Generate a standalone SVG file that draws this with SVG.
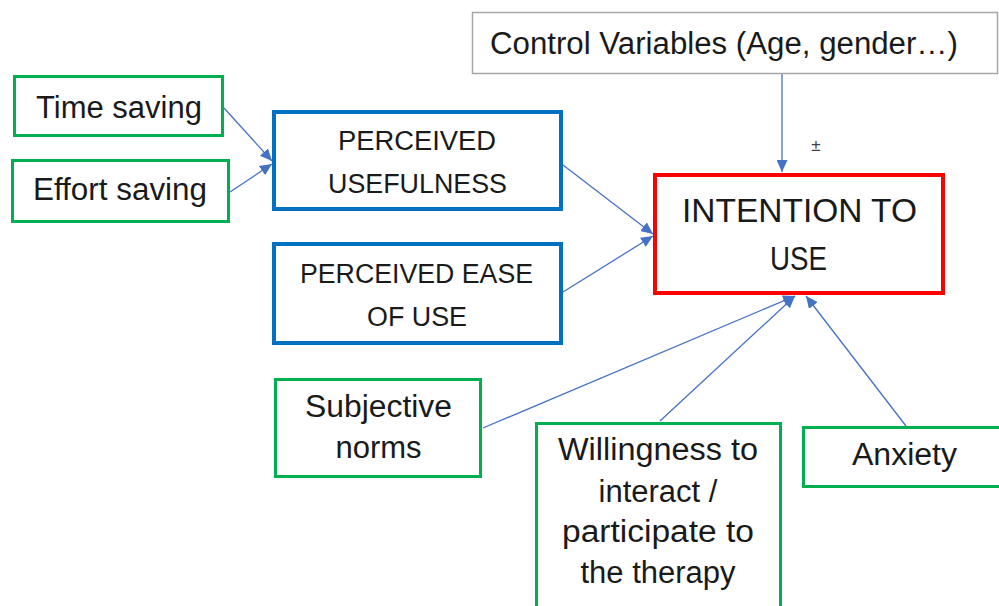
<svg xmlns="http://www.w3.org/2000/svg" width="999" height="606" viewBox="0 0 999 606">
<style>
text{font-family:"Liberation Sans",Arial,sans-serif;fill:#1a1a1a;text-anchor:middle}
.t{font-size:31px}
.c{font-size:27px}
.i{font-size:33px}
.pm{font-size:17px;fill:#404040}
.g{fill:#fff;stroke:#00B050;stroke-width:3}
.b{fill:#fff;stroke:#0070C0;stroke-width:4}
.r{fill:#fff;stroke:#FF0000;stroke-width:4}
.k{fill:#fff;stroke:#A6A6A6;stroke-width:1.5}
.e{fill:none;stroke:#4472C4;stroke-width:1.3;marker-end:url(#ah)}
</style>
<defs>
<marker id="ah" markerUnits="userSpaceOnUse" markerWidth="13" markerHeight="11" refX="12" refY="5.5" orient="auto">
<path d="M0,0 L12,5.5 L0,11 z" fill="#4472C4"/>
</marker>
</defs>
<rect width="999" height="606" fill="#fff"/>
<g id="connectors">
<line class="e" x1="224" y1="108" x2="272" y2="161"/>
<line class="e" x1="230" y1="192" x2="272" y2="164"/>
<line class="e" x1="563" y1="165" x2="653" y2="234"/>
<line class="e" x1="563" y1="292" x2="653" y2="236"/>
<line class="e" x1="782" y1="73" x2="782" y2="172"/>
<line class="e" x1="483" y1="428" x2="795" y2="296"/>
<line class="e" x1="660" y1="421" x2="795" y2="296"/>
<line class="e" x1="906" y1="426" x2="806" y2="296"/>
<text class="pm" x="816" y="151">±</text>
</g>
<g id="control">
<rect class="k" x="472.5" y="12.5" width="525" height="61"/>
<text class="t" x="490" y="54" style="text-anchor:start" textLength="468" lengthAdjust="spacingAndGlyphs">Control Variables (Age, gender…)</text>
</g>
<g id="time-saving">
<rect class="g" x="14.5" y="76.5" width="208" height="59"/>
<text class="t" x="119" y="118" textLength="166" lengthAdjust="spacingAndGlyphs">Time saving</text>
</g>
<g id="effort-saving">
<rect class="g" x="12.5" y="160.5" width="216" height="61"/>
<text class="t" x="120" y="200" textLength="174" lengthAdjust="spacingAndGlyphs">Effort saving</text>
</g>
<g id="perceived-usefulness">
<rect class="b" x="274" y="112" width="287" height="97"/>
<text class="c" x="417" y="150" textLength="158" lengthAdjust="spacingAndGlyphs">PERCEIVED</text>
<text class="c" x="417.5" y="193" textLength="179" lengthAdjust="spacingAndGlyphs">USEFULNESS</text>
</g>
<g id="perceived-ease-of-use">
<rect class="b" x="274" y="244" width="287" height="99"/>
<text class="c" x="416.5" y="283" textLength="233" lengthAdjust="spacingAndGlyphs">PERCEIVED EASE</text>
<text class="c" x="417" y="326" textLength="100" lengthAdjust="spacingAndGlyphs">OF USE</text>
</g>
<g id="intention-to-use">
<rect class="r" x="655" y="175" width="288" height="118"/>
<text class="i" x="799.5" y="222" textLength="235" lengthAdjust="spacingAndGlyphs">INTENTION TO</text>
<text class="i" x="798.5" y="270" textLength="57" lengthAdjust="spacingAndGlyphs">USE</text>
</g>
<g id="subjective-norms">
<rect class="g" x="275.5" y="379.5" width="205" height="97"/>
<text class="t" x="378.5" y="417" textLength="147" lengthAdjust="spacingAndGlyphs">Subjective</text>
<text class="t" x="378.5" y="458">norms</text>
</g>
<g id="willingness">
<rect class="g" x="536.5" y="423.5" width="244" height="200"/>
<text class="t" x="658" y="460" textLength="200" lengthAdjust="spacingAndGlyphs">Willingness to</text>
<text class="t" x="658" y="502">interact /</text>
<text class="t" x="658" y="542" textLength="192" lengthAdjust="spacingAndGlyphs">participate to</text>
<text class="t" x="658" y="583">the therapy</text>
</g>
<g id="anxiety">
<rect class="g" x="803.5" y="427.5" width="220" height="59"/>
<text class="t" x="904.5" y="465" textLength="105" lengthAdjust="spacingAndGlyphs">Anxiety</text>
</g>
</svg>
